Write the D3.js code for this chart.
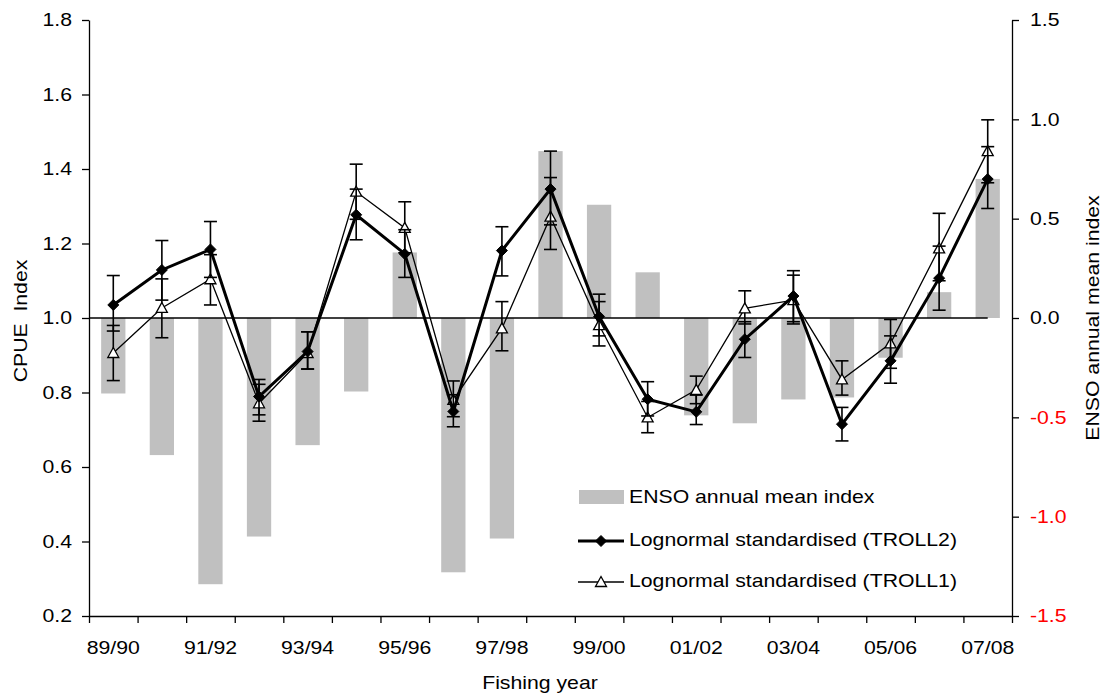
<!DOCTYPE html>
<html>
<head>
<meta charset="utf-8">
<script src="https://cdn.jsdelivr.net/npm/d3@7"></script>
<style>
  body { margin: 0; background: #fff; }
  svg text { font-family: "Liberation Sans", Arial, sans-serif; font-size: 18px; fill: #000; }
</style>
</head>
<body>
<div id="chart"></div>
<script>
// fishing years
var years = ["89/90","90/91","91/92","92/93","93/94","94/95","95/96","96/97","97/98","98/99",
             "99/00","00/01","01/02","02/03","03/04","04/05","05/06","06/07","07/08"];

// ENSO annual mean index (right axis)
var enso = [-0.38,-0.69,-1.34,-1.10,-0.64,-0.37,0.33,-1.28,-1.11,0.84,
            0.57,0.23,-0.49,-0.53,-0.41,-0.40,-0.20,0.13,0.70];

// Lognormal standardised (TROLL2) + error bars
var troll2   = [1.035,1.129,1.184,0.789,0.910,1.277,1.172,0.749,1.181,1.346,
                1.004,0.782,0.748,0.943,1.059,0.715,0.885,1.107,1.373];
var troll2Lo = [0.965,1.048,1.109,0.740,0.863,1.210,1.109,0.708,1.113,1.250,
                0.952,0.737,0.714,0.894,0.990,0.670,0.825,1.021,1.294];
var troll2Hi = [1.114,1.208,1.259,0.835,0.963,1.346,1.237,0.794,1.245,1.448,
                1.064,0.829,0.793,0.990,1.127,0.760,0.952,1.193,1.460];

// Lognormal standardised (TROLL1) + error bars
var troll1   = [0.906,1.027,1.104,0.771,0.906,1.339,1.242,0.780,0.972,1.272,
                0.981,0.733,0.807,1.026,1.048,0.835,0.932,1.187,1.448];
var troll1Lo = [0.832,0.947,1.035,0.723,0.863,1.265,1.175,0.735,0.912,1.184,
                0.925,0.692,0.770,0.984,0.984,0.793,0.865,1.100,1.363];
var troll1Hi = [0.980,1.105,1.170,0.822,0.963,1.413,1.312,0.831,1.044,1.377,
                1.044,0.776,0.844,1.073,1.115,0.885,0.996,1.281,1.532];

var leftTicks = [0.2,0.4,0.6,0.8,1.0,1.2,1.4,1.6,1.8];
var rightTicks = [-1.5,-1.0,-0.5,0.0,0.5,1.0,1.5];

var W = 1102, H = 697;
var margin = {top: 20, right: 90, bottom: 81, left: 89};
var SX = 1.18; // text is drawn a bit wide in the original

var svg = d3.select("#chart").append("svg").attr("width", W).attr("height", H);

var x = d3.scaleBand().domain(years).range([margin.left, W - margin.right]).padding(0);
var xi = d3.scaleLinear().domain([0, years.length]).range(x.range());
var y = d3.scaleLinear().domain([0.2, 1.8]).range([H - margin.bottom, margin.top]);
var y2 = d3.scaleLinear().domain([-1.5, 1.5]).range([H - margin.bottom, margin.top]);
var cx = function(i) { return x(years[i]) + x.bandwidth() / 2; };

// ENSO bars
var bw = x.bandwidth() * 0.5;
svg.append("g").selectAll("rect").data(enso).enter().append("rect")
    .attr("x", function(d, i) { return cx(i) - bw / 2; })
    .attr("y", function(d) { return y2(Math.max(0, d)); })
    .attr("width", bw)
    .attr("height", function(d) { return Math.abs(y2(d) - y2(0)); })
    .style("fill", "#c0c0c0");

// reference line at 1.0
svg.append("line")
    .attr("x1", margin.left).attr("x2", cx(years.length - 1))
    .attr("y1", y(1)).attr("y2", y(1))
    .style("stroke", "#000").style("stroke-width", 1.3);

// axes
var leftAxis = svg.append("g")
    .attr("transform", "translate(" + margin.left + ",0)")
    .call(d3.axisLeft(y).tickValues(leftTicks).tickSize(7).tickSizeOuter(0).tickFormat(d3.format(".1f")));
leftAxis.selectAll("text").attr("x", -17 / SX).attr("transform", "scale(" + SX + ",1)");

var rightAxis = svg.append("g")
    .attr("transform", "translate(" + (W - margin.right) + ",0)")
    .call(d3.axisRight(y2).tickValues(rightTicks).tickSize(7).tickSizeOuter(0)
        .tickFormat(function(d) { return d.toFixed(1); }));
rightAxis.selectAll("text").attr("x", 18 / SX).attr("transform", "scale(" + SX + ",1)")
    .style("fill", function(d) { return d < 0 ? "#ff0000" : "#000"; });

var bottomTicks = svg.append("g")
    .attr("transform", "translate(0," + (H - margin.bottom) + ")")
    .call(d3.axisBottom(xi).tickValues(d3.range(years.length + 1)).tickSize(7).tickSizeOuter(0).tickFormat(""));

var bottomLabels = svg.append("g")
    .attr("transform", "translate(0," + (H - margin.bottom) + ")")
    .call(d3.axisBottom(x).tickSize(0).tickPadding(0)
        .tickFormat(function(d, i) { return i % 2 === 0 ? d : ""; }));
bottomLabels.select(".domain").remove();
bottomLabels.selectAll("text").attr("y", 0).attr("dy", 0)
    .attr("transform", "translate(0,38) scale(" + SX + ",1)");

svg.selectAll(".domain, .tick line").style("stroke", "#000").style("stroke-width", 1.3);
svg.selectAll(".tick text").style("font-size", "18px").style("font-family", "Liberation Sans, Arial, sans-serif");

// series
var drawSeries = function(vals, lo, hi, width, marker) {
    var g = svg.append("g");
    g.selectAll("line.err").data(vals).enter().append("line")
        .attr("class", "err")
        .attr("x1", function(d, i) { return cx(i); }).attr("x2", function(d, i) { return cx(i); })
        .attr("y1", function(d, i) { return y(lo[i]); }).attr("y2", function(d, i) { return y(hi[i]); })
        .style("stroke", "#000").style("stroke-width", 1.6);
    [lo, hi].forEach(function(arr) {
        g.selectAll(null).data(arr).enter().append("line")
            .attr("x1", function(d, i) { return cx(i) - 6.5; }).attr("x2", function(d, i) { return cx(i) + 6.5; })
            .attr("y1", function(d) { return y(d); }).attr("y2", function(d) { return y(d); })
            .style("stroke", "#000").style("stroke-width", 1.6);
    });
    g.append("path").datum(vals)
        .attr("d", d3.line().x(function(d, i) { return cx(i); }).y(function(d) { return y(d); }))
        .style("fill", "none").style("stroke", "#000").style("stroke-width", width)
        .style("stroke-linejoin", "miter");
    g.selectAll("path.mk").data(vals).enter().append("path")
        .attr("class", "mk")
        .attr("transform", function(d, i) { return "translate(" + cx(i) + "," + y(d) + ")"; })
        .attr("d", marker.d)
        .style("fill", marker.fill).style("stroke", "#000").style("stroke-width", marker.sw);
};

var diamond = {d: "M0,-5.5L5.5,0L0,5.5L-5.5,0Z", fill: "#000", sw: 1};
var triangle = {d: "M0,-5.5L5.5,4.5L-5.5,4.5Z", fill: "#fff", sw: 1.3};

drawSeries(troll1, troll1Lo, troll1Hi, 1.3, triangle);
drawSeries(troll2, troll2Lo, troll2Hi, 3, diamond);

// legend
var leg = svg.append("g");
leg.append("rect").attr("x", 579).attr("y", 490).attr("width", 45).attr("height", 14).style("fill", "#c0c0c0");
var legItems = [
    {label: "ENSO annual mean index", y: 503},
    {label: "Lognormal standardised (TROLL2)", y: 546, w: 3, m: diamond, my: 541},
    {label: "Lognormal standardised (TROLL1)", y: 587, w: 1.3, m: triangle, my: 582}
];
legItems.forEach(function(it) {
    leg.append("text").attr("transform", "translate(629," + it.y + ") scale(" + SX + ",1)").text(it.label);
    if (it.m) {
        leg.append("line").attr("x1", 578).attr("x2", 624).attr("y1", it.my).attr("y2", it.my)
            .style("stroke", "#000").style("stroke-width", it.w);
        leg.append("path").attr("transform", "translate(601," + it.my + ")").attr("d", it.m.d)
            .style("fill", it.m.fill).style("stroke", "#000").style("stroke-width", it.m.sw);
    }
});

// axis titles
svg.append("text").attr("transform", "translate(540,689) scale(" + SX + ",1)")
    .attr("text-anchor", "middle").text("Fishing year");
svg.append("text").attr("transform", "translate(27,321) rotate(-90) scale(" + SX + ",1)")
    .attr("text-anchor", "middle").style("white-space", "pre").text("CPUE  Index");
svg.append("text").attr("transform", "translate(1099,318) rotate(-90) scale(" + SX + ",1)")
    .attr("text-anchor", "middle").text("ENSO annual mean index");
</script>
</body>
</html>
